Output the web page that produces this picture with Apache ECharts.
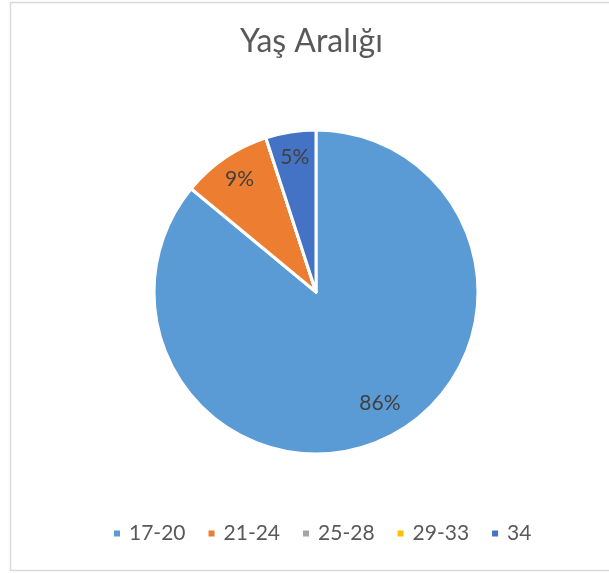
<!DOCTYPE html>
<html>
<head>
<meta charset="utf-8">
<script src="https://cdn.jsdelivr.net/npm/echarts@6/dist/echarts.min.js"></script>
<style>
html,body{margin:0;padding:0;background:#fff;}
#chart{width:609px;height:573px;}
</style>
</head>
<body>
<div id="chart"></div>
<script>
const titleText = 'Yaş Aralığı';
const categories = ['17-20', '21-24', '25-28', '29-33', '34'];
const values = [86, 9, 0, 0, 5];
const colors = ['#5B9BD5', '#ED7D31', '#A5A5A5', '#FFC000', '#4472C4'];

const FONT = 'Lato';
const data = categories.map((c, i) => ({ name: c, value: values[i], itemStyle: { color: colors[i] } }));

const chart = echarts.init(document.getElementById('chart'), null, { renderer: 'canvas' });
chart.setOption({
  animation: false,
  backgroundColor: '#ffffff',
  color: colors,
  graphic: [{
    type: 'rect', silent: true, z: -1,
    shape: { x: 10.5, y: 2.5, width: 640, height: 568 },
    style: { fill: 'none', stroke: '#d9d9d9', lineWidth: 1.5 }
  }],
  title: {
    text: titleText, left: 240, top: 26, padding: 0,
    textStyle: { fontFamily: FONT, fontSize: 32, fontWeight: 'normal', color: '#595959' }
  },
  legend: {
    data: categories, left: 112, top: 523, padding: 0, icon: 'rect', itemWidth: 8, itemHeight: 8, itemGap: 21,
    textStyle: { fontFamily: FONT, fontSize: 21, color: '#595959', padding: [0, 0, 0, 3] }
  },
  series: [{
    type: 'pie', center: [316, 292], radius: [0, 162], startAngle: 90, clockwise: true,
    data: data,
    itemStyle: { borderColor: '#ffffff', borderWidth: 3 },
    label: { show: false }, labelLine: { show: false },
    emphasis: { disabled: true }
  }, {
    type: 'pie', center: [316, 292], radius: [104, 162], startAngle: 90, clockwise: true, silent: true,
    data: categories.map((c, i) => ({ name: c, value: values[i] })),
    itemStyle: { color: 'rgba(0,0,0,0)', borderWidth: 0 },
    label: {
      show: true, position: 'inside', fontFamily: FONT, fontSize: 21, color: '#404040',
      formatter: p => p.value > 0 ? p.percent.toFixed(0) + '%' : ''
    },
    labelLayout: p => p.dataIndex === 0 ? { dx: 6, dy: -12 } : {},
    labelLine: { show: false },
    emphasis: { disabled: true }
  }]
});
</script>
</body>
</html>
